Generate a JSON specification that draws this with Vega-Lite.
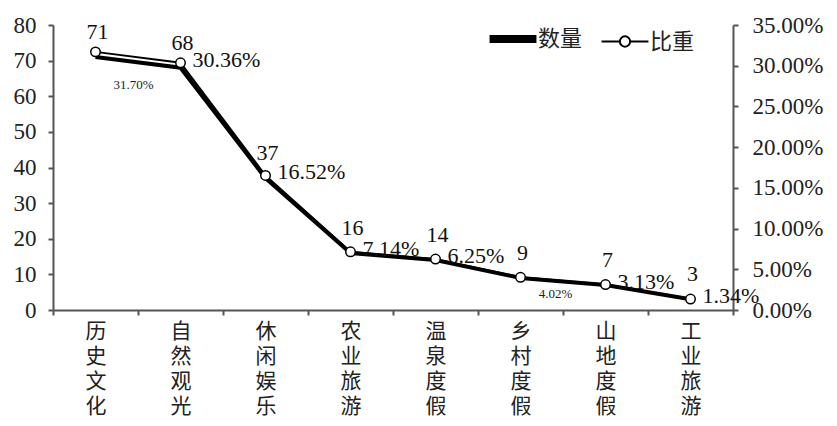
{
  "$schema": "https://vega.github.io/schema/vega-lite/v6.json",
  "autosize": "none",
  "width": 680,
  "height": 285,
  "padding": {"left": 53, "top": 25, "right": 104, "bottom": 116},
  "background": "white",
  "config": {
    "view": {"stroke": null},
    "axis": {
      "domainColor": "#555",
      "tickColor": "#555",
      "domainWidth": 2,
      "tickWidth": 2,
      "tickSize": 5,
      "labelFont": "Liberation Serif",
      "labelFontSize": 23,
      "labelColor": "#222",
      "grid": false,
      "title": null
    }
  },
  "data": {
    "values": [
      {"cat": "历史文化", "num": 71, "pct": 0.3170},
      {"cat": "自然观光", "num": 68, "pct": 0.3036},
      {"cat": "休闲娱乐", "num": 37, "pct": 0.1652},
      {"cat": "农业旅游", "num": 16, "pct": 0.0714},
      {"cat": "温泉度假", "num": 14, "pct": 0.0625},
      {"cat": "乡村度假", "num": 9, "pct": 0.0402},
      {"cat": "山地度假", "num": 7, "pct": 0.0313},
      {"cat": "工业旅游", "num": 3, "pct": 0.0134}
    ]
  },
  "encoding": {
    "x": {
      "field": "cat",
      "type": "nominal",
      "sort": null,
      "scale": {"paddingInner": 0, "paddingOuter": 0},
      "axis": {
        "labelAngle": 0,
        "labelExpr": "split(datum.label, '')",
        "labelFont": "Noto Sans CJK SC",
        "labelFontSize": 21,
        "labelLineHeight": 25,
        "labelBaseline": "top",
        "labelPadding": 5,
        "tickBand": "extent"
      }
    }
  },
  "layer": [
    {
      "encoding": {
        "y": {
          "field": "num",
          "type": "quantitative",
          "scale": {"domain": [0, 80]},
          "axis": {"orient": "left", "labelPadding": 12, "values": [0, 10, 20, 30, 40, 50, 60, 70, 80]}
        }
      },
      "layer": [
        {
          "mark": {"type": "line", "strokeWidth": 4, "color": "black"},
          "encoding": {
            "color": {
              "datum": "数量",
              "scale": {"domain": ["数量", "比重"], "range": ["black", "black"]},
              "legend": {
                "orient": "none",
                "legendX": 449,
                "legendY": 3,
                "direction": "horizontal",
                "title": null,
                "labelFont": "Noto Sans CJK SC",
                "labelFontSize": 22,
                "labelColor": "#222",
                "labelOffset": 14,
                "columnPadding": 14,
                "symbolSize": 2200,
                "symbolType": "stroke",
                "symbolStrokeColor": "black",
                "encode": {
                  "symbols": {
                    "update": {
                      "shape": {"signal": "datum.value === '数量' ? 'stroke' : 'M-1,0L-0.22,0M0.22,0L1,0M0.22,0A0.22,0.22,0,1,1,-0.22,0A0.22,0.22,0,1,1,0.22,0'"},
                      "strokeWidth": {"signal": "datum.value === '数量' ? 8 : 2"},
                      "fill": {"value": "white"},
                      "stroke": {"value": "black"},
                      "opacity": {"value": 1}
                    }
                  }
                }
              }
            }
          }
        },
        {
          "mark": {"type": "text", "font": "Liberation Serif", "fontSize": 22, "color": "#111", "dy": -25, "dx": 2},
          "encoding": {"text": {"field": "num", "type": "quantitative"}}
        }
      ]
    },
    {
      "encoding": {
        "y": {
          "field": "pct",
          "type": "quantitative",
          "scale": {"domain": [0, 0.35]},
          "axis": {"orient": "right", "labelPadding": 14, "format": ".2%", "values": [0, 0.05, 0.1, 0.15, 0.2, 0.25, 0.3, 0.35]}
        }
      },
      "layer": [
        {
          "mark": {"type": "line", "strokeWidth": 2, "color": "black"},
          "encoding": {"color": {"datum": "比重"}}
        },
        {
          "mark": {"type": "point", "shape": "circle", "filled": true, "fill": "white", "stroke": "black", "strokeWidth": 1.5, "size": 90, "opacity": 1}
        },
        {
          "transform": [{"filter": "datum.cat !== '历史文化' && datum.cat !== '乡村度假'"}],
          "mark": {"type": "text", "font": "Liberation Serif", "fontSize": 22, "color": "#111", "align": "left", "baseline": "middle", "dx": 12, "dy": -3},
          "encoding": {"text": {"field": "pct", "type": "quantitative", "format": ".2%"}}
        },
        {
          "transform": [{"filter": "datum.cat === '历史文化'"}],
          "mark": {"type": "text", "font": "Liberation Serif", "fontSize": 13, "color": "#222", "align": "center", "baseline": "middle", "dx": 38, "dy": 33},
          "encoding": {"text": {"field": "pct", "type": "quantitative", "format": ".2%"}}
        },
        {
          "transform": [{"filter": "datum.cat === '乡村度假'"}],
          "mark": {"type": "text", "font": "Liberation Serif", "fontSize": 13, "color": "#222", "align": "center", "baseline": "middle", "dx": 35, "dy": 17},
          "encoding": {"text": {"field": "pct", "type": "quantitative", "format": ".2%"}}
        }
      ]
    }
  ],
  "resolve": {"scale": {"y": "independent"}}
}
